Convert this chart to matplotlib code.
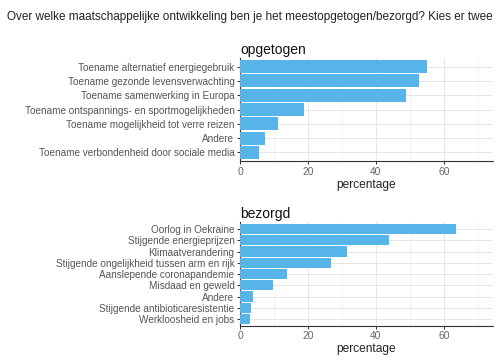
import matplotlib
matplotlib.use("Agg")
import matplotlib.pyplot as plt
from matplotlib.ticker import MultipleLocator

plt.rcParams['font.family'] = ['Liberation Sans', 'DejaVu Sans']

title = "Over welke maatschappelijke ontwikkeling ben je het meestopgetogen/bezorgd? Kies er twee"

opg_labels = ["Toename alternatief energiegebruik",
              "Toename gezonde levensverwachting",
              "Toename samenwerking in Europa",
              "Toename ontspannings- en sportmogelijkheden",
              "Toename mogelijkheid tot verre reizen",
              "Andere",
              "Toename verbondenheid door sociale media"]
opg_values = [55.0, 52.7, 48.9, 18.9, 11.3, 7.3, 5.7]

bez_labels = ["Oorlog in Oekraine",
              "Stijgende energieprijzen",
              "Klimaatverandering",
              "Stijgende ongelijkheid tussen arm en rijk",
              "Aanslepende coronapandemie",
              "Misdaad en geweld",
              "Andere",
              "Stijgende antibioticaresistentie",
              "Werkloosheid en jobs"]
bez_values = [63.7, 43.9, 31.5, 26.7, 13.8, 9.8, 3.9, 3.3, 2.8]

xticks = [0, 20, 40, 60]
bar_color = "#56B4E9"

fig = plt.figure(figsize=(5, 3.62), dpi=100)
fig.text(0.5, 1 - 17/362, title, ha="center", va="center", fontsize=8.45, color="#222222")

def panel(rect, labels, values, name):
    ax = fig.add_axes(rect)
    n = len(labels)
    pos = list(range(n, 0, -1))
    ax.barh(pos, values, height=0.9, color=bar_color, zorder=3)
    ax.set_ylim(0.4, n + 0.6)
    ax.set_xlim(0, 74.5)
    ax.set_yticks(pos)
    ax.set_yticklabels(labels)
    ax.set_xticks(xticks)
    ax.xaxis.set_minor_locator(MultipleLocator(10))
    ax.grid(True, which="major", color="#E6E6E6", lw=0.7, zorder=0)
    ax.grid(True, which="minor", axis="x", color="#F0F0F0", lw=0.5, zorder=0)
    for s in ["top", "right"]:
        ax.spines[s].set_visible(False)
    for s in ["left", "bottom"]:
        ax.spines[s].set_color("#333333")
        ax.spines[s].set_linewidth(0.8)
    ax.tick_params(axis="y", which="major", labelsize=7.2, labelcolor="#555555",
                   color="#333333", length=2.5, width=0.7, pad=1.5)
    ax.tick_params(axis="x", which="major", labelsize=7.4, labelcolor="#666666",
                   color="#333333", length=2.5, width=0.7, pad=1.5)
    ax.tick_params(axis="x", which="minor", length=0)
    ax.set_xlabel("percentage", fontsize=8.6, color="#222222", labelpad=1.5)
    ax.set_title(name, loc="left", fontsize=10, color="#111111", pad=3)
    return ax

panel([0.48, 0.555, 0.506, 0.285], opg_labels, opg_values, "opgetogen")
panel([0.48, 0.100, 0.506, 0.286], bez_labels, bez_values, "bezorgd")

fig.savefig("out.png", dpi=100, facecolor="white")
